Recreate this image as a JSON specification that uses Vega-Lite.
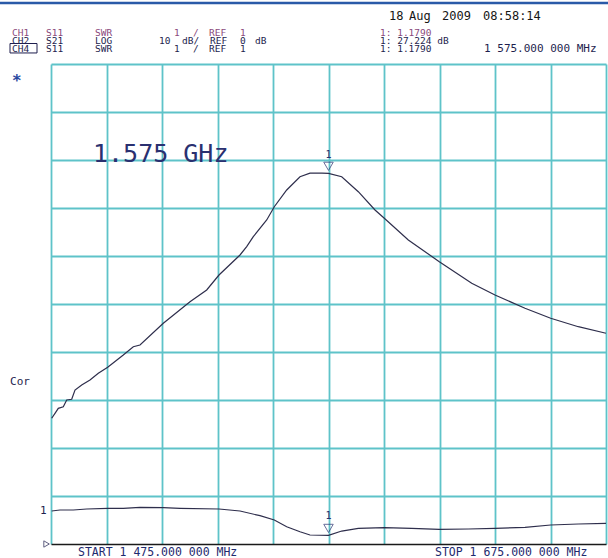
{
  "$schema": "https://vega.github.io/schema/vega-lite/v6.json",
  "width": 555,
  "height": 480,
  "autosize": {"type": "none"},
  "padding": {"left": 51, "top": 64, "right": 2, "bottom": 14},
  "background": "#ffffff",
  "config": {"view": {"stroke": null}, "text": {"font": "DejaVu Sans Mono"}},
  "datasets": {
    "s21": [
      {"mhz": 1475.25, "db": -23.81}, {"mhz": 1476.44, "db": -22.77}, {"mhz": 1477.63, "db": -21.73},
      {"mhz": 1479.43, "db": -21.40}, {"mhz": 1480.66, "db": -20.00}, {"mhz": 1482.46, "db": -19.85},
      {"mhz": 1483.65, "db": -17.92}, {"mhz": 1486.06, "db": -16.88}, {"mhz": 1489.05, "db": -15.83},
      {"mhz": 1492.05, "db": -14.44}, {"mhz": 1495.43, "db": -13.19}, {"mhz": 1501.05, "db": -10.63},
      {"mhz": 1504.66, "db": -8.90}, {"mhz": 1507.07, "db": -8.54}, {"mhz": 1515.47, "db": -4.02},
      {"mhz": 1525.09, "db": 0.48}, {"mhz": 1531.11, "db": 2.92}, {"mhz": 1535.54, "db": 6.04},
      {"mhz": 1543.11, "db": 10.21}, {"mhz": 1545.52, "db": 11.94}, {"mhz": 1547.90, "db": 14.02},
      {"mhz": 1552.73, "db": 17.50}, {"mhz": 1555.47, "db": 20.27}, {"mhz": 1559.94, "db": 23.75},
      {"mhz": 1564.73, "db": 26.52}, {"mhz": 1568.33, "db": 27.25}, {"mhz": 1572.65, "db": 27.25},
      {"mhz": 1575.00, "db": 27.224}, {"mhz": 1579.76, "db": 26.52}, {"mhz": 1585.74, "db": 23.40},
      {"mhz": 1591.76, "db": 19.58}, {"mhz": 1595.11, "db": 17.85}, {"mhz": 1603.76, "db": 13.33},
      {"mhz": 1614.93, "db": 8.81}, {"mhz": 1626.61, "db": 4.31}, {"mhz": 1635.00, "db": 1.88},
      {"mhz": 1645.81, "db": -0.90}, {"mhz": 1655.07, "db": -2.98}, {"mhz": 1665.02, "db": -4.73},
      {"mhz": 1675.00, "db": -6.10}
    ],
    "s11": [
      {"mhz": 1475.25, "swr": 1.6875}, {"mhz": 1478.24, "swr": 1.708}, {"mhz": 1483.04, "swr": 1.708},
      {"mhz": 1487.86, "swr": 1.729}, {"mhz": 1495.43, "swr": 1.744}, {"mhz": 1501.05, "swr": 1.744},
      {"mhz": 1507.07, "swr": 1.765}, {"mhz": 1515.47, "swr": 1.756}, {"mhz": 1521.49, "swr": 1.744},
      {"mhz": 1535.54, "swr": 1.729}, {"mhz": 1543.11, "swr": 1.6875}, {"mhz": 1550.32, "swr": 1.59},
      {"mhz": 1555.47, "swr": 1.50}, {"mhz": 1559.94, "swr": 1.36}, {"mhz": 1564.73, "swr": 1.256},
      {"mhz": 1568.33, "swr": 1.1875}, {"mhz": 1575.00, "swr": 1.179}, {"mhz": 1579.76, "swr": 1.27},
      {"mhz": 1585.74, "swr": 1.327}, {"mhz": 1595.11, "swr": 1.34}, {"mhz": 1604.98, "swr": 1.327},
      {"mhz": 1614.93, "swr": 1.306}, {"mhz": 1625.38, "swr": 1.3125}, {"mhz": 1635.00, "swr": 1.327},
      {"mhz": 1645.81, "swr": 1.348}, {"mhz": 1655.07, "swr": 1.396}, {"mhz": 1665.02, "swr": 1.417},
      {"mhz": 1675.00, "swr": 1.43}
    ]
  },
  "layer": [
    {
      "layer": [
        {
          "data": {"name": "s21"},
          "mark": {"type": "line", "color": "#2e2e4c", "strokeWidth": 1.2},
          "encoding": {
            "x": {"field": "mhz", "type": "quantitative",
              "scale": {"domain": [1475, 1675], "nice": false, "zero": false},
              "axis": {"values": [1475, 1495, 1515, 1535, 1555, 1575, 1595, 1615, 1635, 1655, 1675],
                "grid": true, "gridColor": "#5ec3c9", "gridWidth": 1.8, "gridOpacity": 1,
                "labels": false, "ticks": false, "title": null, "domainColor": "#1a1a1a", "domainWidth": 1.5}},
            "y": {"field": "db", "type": "quantitative",
              "scale": {"domain": [-50, 50], "nice": false, "zero": false},
              "axis": {"values": [-40, -30, -20, -10, 0, 10, 20, 30, 40, 50],
                "grid": true, "gridColor": "#5ec3c9", "gridWidth": 1.8, "gridOpacity": 1,
                "labels": false, "ticks": false, "domain": false, "title": null}}
          }
        },
        {
          "data": {"values": [{"mhz": 1575.0, "db": 27.224}]},
          "mark": {"type": "point", "shape": "triangle-down", "filled": false, "stroke": "#283070", "strokeWidth": 1, "size": 90, "yOffset": -7},
          "encoding": {
            "x": {"field": "mhz", "type": "quantitative"},
            "y": {"field": "db", "type": "quantitative", "scale": {"domain": [-50, 50]}}
          }
        },
        {
          "data": {"values": [{"mhz": 1575.0, "db": 27.224, "label": "1"}]},
          "mark": {"type": "text", "color": "#283070", "fontSize": 10, "dy": -18, "baseline": "middle"},
          "encoding": {
            "x": {"field": "mhz", "type": "quantitative"},
            "y": {"field": "db", "type": "quantitative", "scale": {"domain": [-50, 50]}},
            "text": {"field": "label"}
          }
        },
        {
          "data": {"values": [{"x1": 1456.62, "x2": 1675.72, "db": 62.71}]},
          "mark": {"type": "rule", "color": "#2a5aa8", "strokeWidth": 2.5},
          "encoding": {
            "x": {"field": "x1", "type": "quantitative"},
            "x2": {"field": "x2"},
            "y": {"field": "db", "type": "quantitative", "scale": {"domain": [-50, 50]}}
          }
        },
        {
          "data": {"values": [{"x1": 1460.23, "x2": 1469.96, "y1": 54.27, "y2": 52.3}]},
          "mark": {"type": "rect", "filled": false, "stroke": "#1e1e4e", "strokeWidth": 1},
          "encoding": {
            "x": {"field": "x1", "type": "quantitative"},
            "x2": {"field": "x2"},
            "y": {"field": "y1", "type": "quantitative", "scale": {"domain": [-50, 50]}},
            "y2": {"field": "y2"}
          }
        },
        {
          "data": {"values": [
            {"label": "CH1", "mhz": 1460.95, "db": 55.9}, {"label": "S11", "mhz": 1473.20, "db": 55.9},
            {"label": "SWR", "mhz": 1490.86, "db": 55.9}, {"label": "1", "mhz": 1519.32, "db": 55.9},
            {"label": "/", "mhz": 1526.17, "db": 55.9}, {"label": "REF", "mhz": 1531.94, "db": 55.9},
            {"label": "1", "mhz": 1543.11, "db": 55.9},
            {"label": "1: 1.1790", "mhz": 1593.56, "db": 55.9}
          ]},
          "mark": {"type": "text", "color": "#8b4a7c", "fontSize": 9.5, "align": "left", "baseline": "alphabetic"},
          "encoding": {
            "x": {"field": "mhz", "type": "quantitative"},
            "y": {"field": "db", "type": "quantitative", "scale": {"domain": [-50, 50]}},
            "text": {"field": "label"}
          }
        },
        {
          "data": {"values": [
            {"label": "CH2", "mhz": 1460.95, "db": 54.17}, {"label": "S21", "mhz": 1473.20, "db": 54.17},
            {"label": "LOG", "mhz": 1490.86, "db": 54.17}, {"label": "10", "mhz": 1513.92, "db": 54.17},
            {"label": "dB/", "mhz": 1522.21, "db": 54.17}, {"label": "REF", "mhz": 1532.30, "db": 54.17},
            {"label": "0", "mhz": 1543.11, "db": 54.17}, {"label": "dB", "mhz": 1548.51, "db": 54.17},
            {"label": "1: 27.224 dB", "mhz": 1593.56, "db": 54.17},
            {"label": "CH4", "mhz": 1460.95, "db": 52.5}, {"label": "S11", "mhz": 1473.20, "db": 52.5},
            {"label": "SWR", "mhz": 1490.86, "db": 52.5}, {"label": "1", "mhz": 1519.32, "db": 52.5},
            {"label": "/", "mhz": 1526.17, "db": 52.5}, {"label": "REF", "mhz": 1531.94, "db": 52.5},
            {"label": "1", "mhz": 1543.11, "db": 52.5},
            {"label": "1: 1.1790", "mhz": 1593.56, "db": 52.5}
          ]},
          "mark": {"type": "text", "color": "#1e1e4e", "fontSize": 9.5, "align": "left", "baseline": "alphabetic"},
          "encoding": {
            "x": {"field": "mhz", "type": "quantitative"},
            "y": {"field": "db", "type": "quantitative", "scale": {"domain": [-50, 50]}},
            "text": {"field": "label"}
          }
        },
        {
          "data": {"values": [
            {"label": "1 575.000 000 MHz", "mhz": 1631.04, "db": 52.5}
          ]},
          "mark": {"type": "text", "color": "#1e1e4e", "fontSize": 11, "align": "left", "baseline": "alphabetic"},
          "encoding": {
            "x": {"field": "mhz", "type": "quantitative"},
            "y": {"field": "db", "type": "quantitative", "scale": {"domain": [-50, 50]}},
            "text": {"field": "label"}
          }
        },
        {
          "data": {"values": [
            {"label": "18", "mhz": 1596.80, "db": 59.27},
            {"label": "Aug", "mhz": 1604.01, "db": 59.27},
            {"label": "2009", "mhz": 1615.90, "db": 59.27},
            {"label": "08:58:14", "mhz": 1630.68, "db": 59.27}
          ]},
          "mark": {"type": "text", "color": "#161616", "fontSize": 12, "align": "left", "baseline": "alphabetic"},
          "encoding": {
            "x": {"field": "mhz", "type": "quantitative"},
            "y": {"field": "db", "type": "quantitative", "scale": {"domain": [-50, 50]}},
            "text": {"field": "label"}
          }
        },
        {
          "data": {"values": [
            {"label": "START 1 475.000 000 MHz", "mhz": 1484.73, "db": -52.5},
            {"label": "STOP 1 675.000 000 MHz", "mhz": 1613.38, "db": -52.5}
          ]},
          "mark": {"type": "text", "color": "#1e2a6e", "fontSize": 11.5, "align": "left", "baseline": "alphabetic"},
          "encoding": {
            "x": {"field": "mhz", "type": "quantitative"},
            "y": {"field": "db", "type": "quantitative", "scale": {"domain": [-50, 50]}},
            "text": {"field": "label"}
          }
        },
        {
          "data": {"values": [
            {"label": "Cor", "mhz": 1460.23, "db": -16.25},
            {"label": "1", "mhz": 1471.04, "db": -43.125}
          ]},
          "mark": {"type": "text", "color": "#1e1e4e", "fontSize": 11, "align": "left", "baseline": "middle"},
          "encoding": {
            "x": {"field": "mhz", "type": "quantitative"},
            "y": {"field": "db", "type": "quantitative", "scale": {"domain": [-50, 50]}},
            "text": {"field": "label"}
          }
        },
        {
          "data": {"values": [{"label": "*", "mhz": 1460.95, "db": 46.5}]},
          "mark": {"type": "text", "color": "#2848a0", "fontSize": 16, "align": "left", "baseline": "middle", "fontWeight": "bold"},
          "encoding": {
            "x": {"field": "mhz", "type": "quantitative"},
            "y": {"field": "db", "type": "quantitative", "scale": {"domain": [-50, 50]}},
            "text": {"field": "label"}
          }
        },
        {
          "data": {"values": [{"label": "1.575 GHz", "mhz": 1490.14, "db": 29.58}]},
          "mark": {"type": "text", "color": "#2a3070", "fontSize": 25, "align": "left", "baseline": "alphabetic"},
          "encoding": {
            "x": {"field": "mhz", "type": "quantitative"},
            "y": {"field": "db", "type": "quantitative", "scale": {"domain": [-50, 50]}},
            "text": {"field": "label"}
          }
        },
        {
          "data": {"values": [{"mhz": 1473.4, "db": -50}]},
          "mark": {"type": "point", "shape": "triangle-right", "filled": false, "stroke": "#1e1e4e", "strokeWidth": 1, "size": 40},
          "encoding": {
            "x": {"field": "mhz", "type": "quantitative"},
            "y": {"field": "db", "type": "quantitative", "scale": {"domain": [-50, 50]}}
          }
        }
      ]
    },
    {
      "layer": [
        {
          "data": {"name": "s11"},
          "mark": {"type": "line", "color": "#2e2e4c", "strokeWidth": 1.2},
          "encoding": {
            "x": {"field": "mhz", "type": "quantitative"},
            "y": {"field": "swr", "type": "quantitative", "scale": {"domain": [1, 11], "nice": false, "zero": false}, "axis": null}
          }
        },
        {
          "data": {"values": [{"mhz": 1575.0, "swr": 1.179}]},
          "mark": {"type": "point", "shape": "triangle-down", "filled": false, "stroke": "#283070", "strokeWidth": 1, "size": 90, "yOffset": -7},
          "encoding": {
            "x": {"field": "mhz", "type": "quantitative"},
            "y": {"field": "swr", "type": "quantitative", "scale": {"domain": [1, 11]}, "axis": null}
          }
        },
        {
          "data": {"values": [{"mhz": 1575.0, "swr": 1.179, "label": "1"}]},
          "mark": {"type": "text", "color": "#283070", "fontSize": 10, "dy": -19, "baseline": "middle"},
          "encoding": {
            "x": {"field": "mhz", "type": "quantitative"},
            "y": {"field": "swr", "type": "quantitative", "scale": {"domain": [1, 11]}, "axis": null},
            "text": {"field": "label"}
          }
        }
      ]
    }
  ],
  "resolve": {"scale": {"y": "independent"}, "axis": {"y": "independent"}}
}
